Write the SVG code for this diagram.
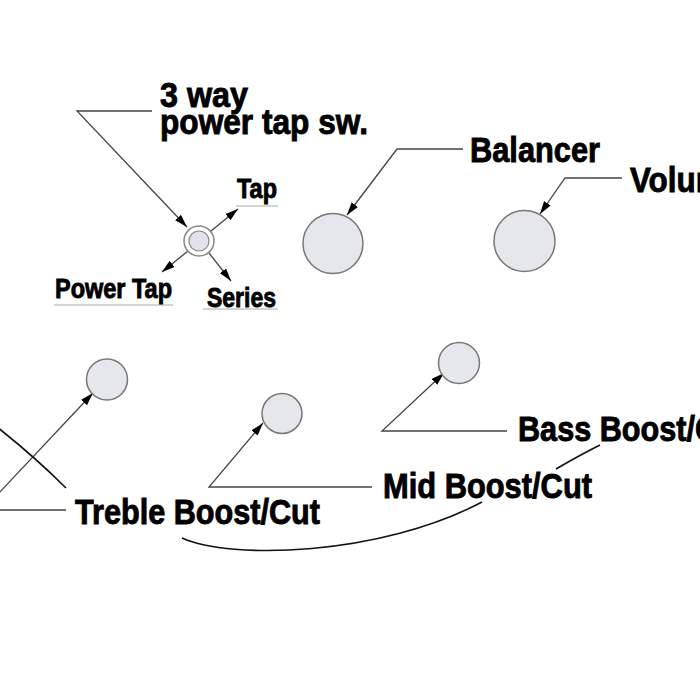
<svg xmlns="http://www.w3.org/2000/svg" width="700" height="700" viewBox="0 0 700 700">
<defs>
<style>
.lbl{font-family:"Liberation Sans",Arial,sans-serif;font-weight:bold;fill:#000;stroke:#000;stroke-width:0.9}
.big{font-size:35px}
.sm{font-size:27px}
.knob{fill:#e6e7ea;stroke:#777;stroke-width:1.5}
.ld{fill:none;stroke:#444;stroke-width:1.3}
.crv{fill:none;stroke:#111;stroke-width:1.6}
.ul{fill:none;stroke:#aaa;stroke-width:1}
</style>
<marker id="ah" viewBox="0 0 13 8" refX="13" refY="4" markerWidth="13" markerHeight="8" markerUnits="userSpaceOnUse" orient="auto">
<path d="M0,0 L13,4 L0,8 Z" fill="#000"/>
</marker>
</defs>
<rect width="700" height="700" fill="#fff"/>

<g id="connectors">
<polyline class="ld" points="152,111 77,111 187,227" marker-end="url(#ah)"/>
<line class="ld" x1="211" y1="231" x2="238" y2="209" marker-end="url(#ah)"/>
<line class="ld" x1="188" y1="251" x2="162" y2="272" marker-end="url(#ah)"/>
<line class="ld" x1="209" y1="253" x2="231" y2="281" marker-end="url(#ah)"/>
<polyline class="ld" points="463,149 397,149 347,215" marker-end="url(#ah)"/>
<polyline class="ld" points="622,178 565,178 540,214" marker-end="url(#ah)"/>
<polyline class="ld" points="66,510 -17,510 93,393" marker-end="url(#ah)"/>
<polyline class="ld" points="372,487 209,487 263,423" marker-end="url(#ah)"/>
<polyline class="ld" points="507,431 382,431 444,373" marker-end="url(#ah)"/>
<path class="crv" d="M-3,427 Q35,457 66,488"/>
<path class="crv" d="M182,538 C230,560 380,556 482,502"/>
<path class="crv" d="M600,445 Q580,455 556,469"/>
<line class="ul" x1="236" y1="206" x2="278" y2="206"/>
<line class="ul" x1="54" y1="305" x2="173" y2="305"/>
<line class="ul" x1="203" y1="309" x2="278" y2="309"/>
</g>

<g id="switch">
<circle cx="199" cy="241" r="15" fill="#fff" stroke="#888" stroke-width="1.5"/>
<circle cx="199" cy="241" r="10" fill="#e2e3e6" stroke="#888" stroke-width="1.2"/>
</g>
<g id="balancer-knob"><circle class="knob" cx="333" cy="243.5" r="30"/></g>
<g id="volume-knob"><circle class="knob" cx="524.5" cy="241" r="30.5"/></g>
<g id="treble-knob"><circle class="knob" cx="107" cy="379.5" r="20.5"/></g>
<g id="mid-knob"><circle class="knob" cx="282" cy="413.5" r="20"/></g>
<g id="bass-knob"><circle class="knob" cx="459" cy="363" r="20.5"/></g>

<g id="labels">
<text class="lbl big" x="160" y="107" textLength="88" lengthAdjust="spacingAndGlyphs">3 way</text>
<text class="lbl big" x="160" y="134" textLength="208" lengthAdjust="spacingAndGlyphs">power tap sw.</text>
<text class="lbl sm" x="237" y="198" textLength="40" lengthAdjust="spacingAndGlyphs">Tap</text>
<text class="lbl sm" x="55" y="298" textLength="117" lengthAdjust="spacingAndGlyphs">Power Tap</text>
<text class="lbl sm" x="207" y="307" textLength="69" lengthAdjust="spacingAndGlyphs">Series</text>
<text class="lbl big" x="470" y="162" textLength="130" lengthAdjust="spacingAndGlyphs">Balancer</text>
<text class="lbl big" x="630" y="192" textLength="111" lengthAdjust="spacingAndGlyphs">Volume</text>
<text class="lbl big" x="518" y="441" textLength="228" lengthAdjust="spacingAndGlyphs">Bass Boost/Cut</text>
<text class="lbl big" x="383" y="498" textLength="209" lengthAdjust="spacingAndGlyphs">Mid Boost/Cut</text>
<text class="lbl big" x="75" y="524" textLength="245" lengthAdjust="spacingAndGlyphs">Treble Boost/Cut</text>
</g>
</svg>
